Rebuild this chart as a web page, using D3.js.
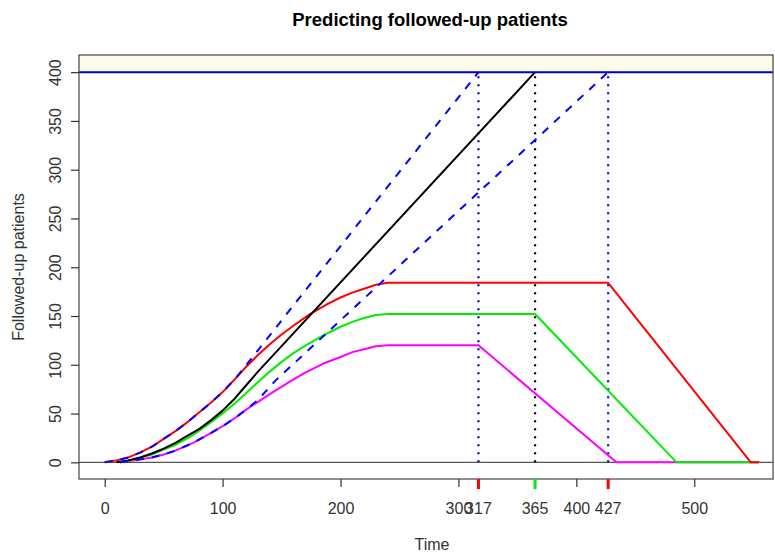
<!DOCTYPE html>
<html>
<head>
<meta charset="utf-8">
<script src="https://cdn.jsdelivr.net/npm/d3@7"></script>
<style>
  html, body { margin: 0; padding: 0; background: #fff; }
  text { font-family: "Liberation Sans", Arial, sans-serif; }
</style>
</head>
<body>
<script>
// ---- data ----
const title = "Predicting followed-up patients";
const xLabel = "Time";
const yLabel = "Followed-up patients";
const xTicks = [0, 100, 200, 300, 400, 500];
const yTicks = [0, 50, 100, 150, 200, 250, 300, 350, 400];
const target = 400;
const markTimes = [317, 365, 427];
const markLineColors = ["#0000cc", "#000000", "#0000cc"];
const rugColors = ["#ff0000", "#00ee00", "#ff0000"];

const blackX = [10, 20, 30, 40, 50, 60, 70, 80, 90, 100, 110, 120, 130, 365];
const blackY = [0, 2, 5, 9, 14, 20, 27, 34, 43, 53, 65, 79, 93, 400];

const upperX = [0, 10, 20, 30, 40, 50, 60, 70, 80, 90, 100, 111, 317];
const upperY = [0, 2, 5, 10, 16, 24, 32, 41, 51, 61, 72, 86, 400];

const lowerX = [13, 25, 40, 50, 60, 75, 90, 100, 110, 120, 130, 145, 427];
const lowerY = [0, 2, 5, 8, 12, 20, 30, 37, 45, 54, 64, 84, 400];

const redX = [0, 10, 20, 30, 40, 50, 60, 70, 80, 90, 100, 111, 120, 130, 140, 150, 160, 174, 190, 200, 210, 220, 230, 240, 427, 548, 555];
const redY = [0, 2, 5, 10, 16, 24, 32, 41, 51, 61, 72, 86, 98, 110, 121, 131, 140, 152, 163, 169, 174, 178, 182, 184, 184, 0, 0];

const greenX = [13, 25, 40, 50, 60, 75, 90, 100, 110, 120, 128, 140, 150, 160, 172, 185, 200, 210, 220, 230, 240, 365, 485, 555];
const greenY = [0, 3, 8, 13, 18, 28, 41, 50, 60, 71, 80, 93, 103, 112, 121, 130, 139, 144, 148, 151, 152, 152, 0, 0];

const magentaX = [13, 25, 40, 50, 60, 75, 90, 100, 110, 120, 130, 140, 156, 170, 185, 200, 210, 220, 230, 240, 317, 434, 555];
const magentaY = [0, 2, 5, 8, 12, 20, 30, 37, 45, 54, 62, 70, 82, 92, 101, 108, 113, 116, 119, 120, 120, 0, 0];

// ---- drawing ----
const W = 775, H = 552;
const L = 79, R = 773, T = 55, B = 479;
const FS = "16px";
const svg = d3.select("body").append("svg").attr("width", W).attr("height", H);
svg.append("rect").attr("width", W).attr("height", H).attr("fill", "#fff");

const x = d3.scaleLinear().domain([-21.8, 566.8]).range([L, R]);
const y = d3.scaleLinear().domain([-17.1, 417.6]).range([B, T]);

// band above target
svg.append("rect").attr("x", L).attr("y", T).attr("width", R - L).attr("height", y(target) - T)
  .attr("fill", "#fcfbe9");

// zero line
svg.append("line").attr("x1", L).attr("x2", R).attr("y1", y(0)).attr("y2", y(0))
  .attr("stroke", "#555").attr("stroke-width", 1.2);

const line = d3.line().x(d => x(d[0])).y(d => y(d[1]));
const pairs = (xs, ys) => xs.map((v, i) => [v, ys[i]]);

// vertical dotted lines
markTimes.forEach((t, i) => {
  svg.append("line").attr("x1", x(t)).attr("x2", x(t)).attr("y1", y(0)).attr("y2", y(target))
    .attr("stroke", markLineColors[i]).attr("stroke-width", 2.2).attr("stroke-dasharray", "2,6");
});

const series = [
  { xs: magentaX, ys: magentaY, color: "#ff00ff", dash: null },
  { xs: greenX, ys: greenY, color: "#00ee00", dash: null },
  { xs: redX, ys: redY, color: "#ff0000", dash: null },
  { xs: blackX, ys: blackY, color: "#000000", dash: null },
  { xs: upperX, ys: upperY, color: "#0000ff", dash: "8,8" },
  { xs: lowerX, ys: lowerY, color: "#0000ff", dash: "8,8" }
];
series.forEach(s => {
  svg.append("path").datum(pairs(s.xs, s.ys)).attr("d", line)
    .attr("fill", "none").attr("stroke", s.color).attr("stroke-width", 2)
    .attr("stroke-dasharray", s.dash).attr("stroke-linejoin", "round");
});

// target line
svg.append("line").attr("x1", L).attr("x2", R).attr("y1", y(target)).attr("y2", y(target))
  .attr("stroke", "#0000cc").attr("stroke-width", 2);

// box
svg.append("rect").attr("x", L).attr("y", T).attr("width", R - L).attr("height", B - T)
  .attr("fill", "none").attr("stroke", "#444").attr("stroke-width", 1.2);

// x axis
const xAxis = d3.axisBottom(x).tickValues(xTicks).tickSize(8).tickFormat("");
const gx = svg.append("g").attr("transform", `translate(0,${B})`).call(xAxis);
gx.select(".domain").remove();
gx.selectAll(".tick line").attr("stroke", "#333").attr("stroke-width", 1.2);
gx.selectAll(".tick").append("text").attr("y", 35).attr("text-anchor", "middle")
  .attr("fill", "#333").style("font-size", FS).text(d => d);

// coloured ticks with labels
markTimes.forEach((t, i) => {
  svg.append("line").attr("x1", x(t)).attr("x2", x(t)).attr("y1", B).attr("y2", B + 10)
    .attr("stroke", rugColors[i]).attr("stroke-width", 3);
  svg.append("text").attr("x", x(t)).attr("y", B + 35).attr("text-anchor", "middle")
    .attr("fill", "#333").style("font-size", FS).text(t);
});

// y axis
const yAxis = d3.axisLeft(y).tickValues(yTicks).tickSize(8).tickFormat("");
const gy = svg.append("g").attr("transform", `translate(${L},0)`).call(yAxis);
gy.select(".domain").remove();
gy.selectAll(".tick line").attr("stroke", "#333").attr("stroke-width", 1.2);
gy.selectAll(".tick").append("text")
  .attr("transform", "translate(-18,0) rotate(-90)")
  .attr("text-anchor", "middle").attr("fill", "#333")
  .style("font-size", FS).text(d => d);

// titles
svg.append("text").attr("x", (L + R) / 2 + 4).attr("y", 26).attr("text-anchor", "middle")
  .style("font-size", "18.5px").style("font-weight", "bold").attr("fill", "#000").text(title);
svg.append("text").attr("x", (L + R) / 2 + 6).attr("y", 550).attr("text-anchor", "middle")
  .style("font-size", FS).attr("fill", "#333").text(xLabel);
svg.append("text").attr("transform", `translate(24,${(T + B) / 2}) rotate(-90)`)
  .attr("text-anchor", "middle").style("font-size", FS).attr("fill", "#333").text(yLabel);
</script>
</body>
</html>
